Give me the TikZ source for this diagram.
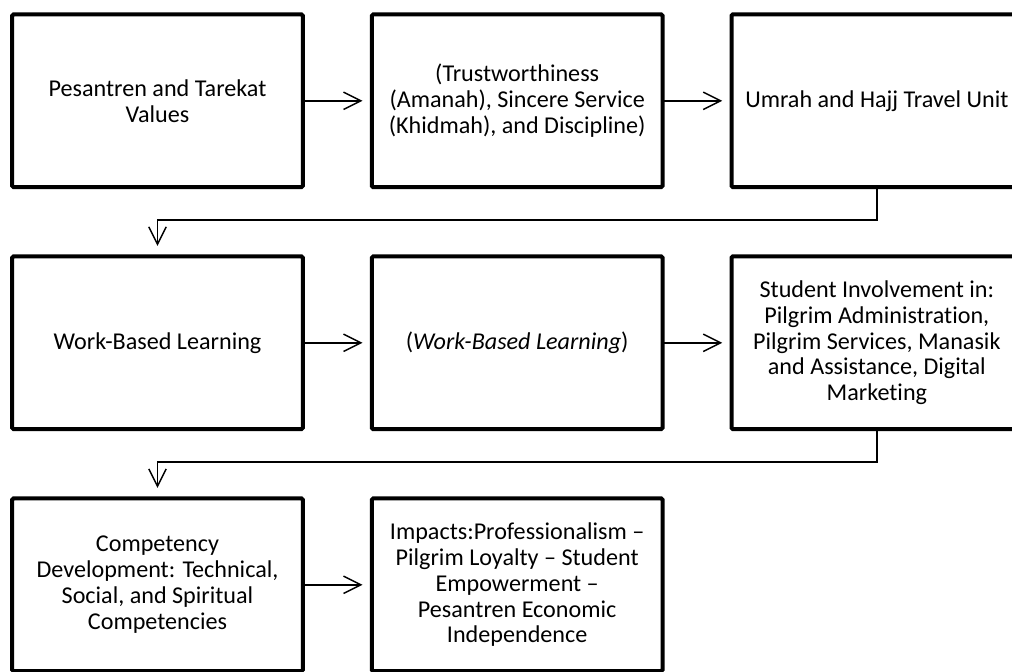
\documentclass[tikz,border=0pt]{standalone}
\usepackage{fontspec}
\setmainfont{Carlito}[Ligatures=NoCommon]
\usetikzlibrary{positioning, arrows.meta}
\tikzstyle{process} = [
    rectangle,
    rounded corners=1pt,
    minimum width=218pt,
    minimum height=129.5pt,
    outer sep=0pt,
    line width=3pt,
    align=center,
    font=\fontsize{18.1pt}{19.4pt}\selectfont,
    draw=black
]
\tikzstyle{arrow} = [line width=1.1pt,-{Straight Barb[length=13pt,width=13pt]},shorten >=7pt]
\tikzstyle{downarrow} = [arrow,shorten >=8pt]

\begin{document}
\begin{tikzpicture}[node distance=52pt and 51.75pt]
\useasboundingbox (-118.125pt,75.6pt) rectangle (640.875pt,-427.65pt);

\node (values) [process] {Pesantren and Tarekat\\Values};

\node (principles) [process, right=of values]
{(Trustworthiness\\(Amanah), Sincere Service\\(Khidmah), and Discipline)};

\node (travel) [process, right=of principles]
{Umrah and Hajj Travel Unit};

\node (wbl) [process, below=of values]
{Work-Based Learning};

\node (wblterm) [process, below=of principles]
{(\textit{Work-Based Learning})};

\node (involvement) [process, below=of travel]
{Student Involvement in:\\Pilgrim Administration,\\Pilgrim Services, Manasik\\and Assistance, Digital\\Marketing};

\node (competency) [process, below=of wbl]
{Competency\\Development: Technical,\\Social, and Spiritual\\Competencies};

\node (impacts) [process, below=of wblterm]
{Impacts:Professionalism --\\Pilgrim Loyalty -- Student\\Empowerment --\\Pesantren Economic\\Independence};

\draw [arrow] (values) -- (principles);
\draw [arrow] (principles) -- (travel);
\draw [downarrow] (travel.south) -- ++(0,-24.75pt) -| (wbl.north);
\draw [arrow] (wbl) -- (wblterm);
\draw [arrow] (wblterm) -- (involvement);
\draw [downarrow] (involvement.south) -- ++(0,-24.75pt) -| (competency.north);
\draw [arrow] (competency) -- (impacts);

\end{tikzpicture}
\end{document}
